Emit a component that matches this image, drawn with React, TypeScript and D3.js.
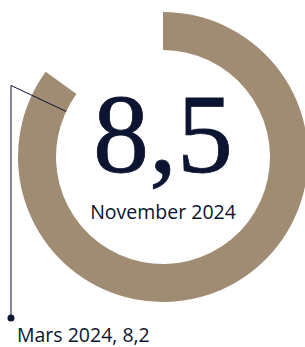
import * as d3 from "d3";

const width = 305;
const height = 347;

// gauge values
const current = [8.5];
const currentLabel = ["November 2024"];
const markerValues = [8.2];
const markerLabels = ["Mars 2024"];
const scaleMax = [10];

const cx = 163;
const cy = 157;
const outerRadius = 145;
const innerRadius = 107;

const ink = "#0b1430";
const ringColor = "#a08c72";

const fmt = (v: number) => v.toFixed(1).replace(".", ",");

const App = () => {
  const angle = d3
    .scaleLinear()
    .domain([0, scaleMax[0]])
    .range([0, 2 * Math.PI]);

  const arcBuilder = d3
    .arc<{ start: number; end: number }>()
    .innerRadius(innerRadius)
    .outerRadius(outerRadius)
    .startAngle((d) => d.start)
    .endAngle((d) => d.end);

  const ringPath = arcBuilder({ start: angle(0), end: angle(current[0]) }) as string;

  // marker leader line: radial from inner edge, then down to the label
  const markers = markerValues.map((v, i) => {
    const a = angle(v);
    const x0 = cx + innerRadius * Math.sin(a);
    const y0 = cy - innerRadius * Math.cos(a);
    const r1 = 168;
    const x1 = cx + r1 * Math.sin(a);
    const y1 = cy - r1 * Math.cos(a);
    return { x0, y0, x1, y1, label: `${markerLabels[i]}, ${fmt(v)}` };
  });

  return (
    <svg
      width={width}
      height={height}
      viewBox={`0 0 ${width} ${height}`}
      style={{ position: "absolute", left: 0, top: 0 }}
    >
      <path d={ringPath} transform={`translate(${cx},${cy})`} fill={ringColor} />

      {markers.map((m, i) => (
        <g key={i}>
          <polyline
            points={`${m.x0},${m.y0} ${m.x1},${m.y1} ${m.x1},318`}
            fill="none"
            stroke={ink}
            strokeWidth={1}
          />
          <circle cx={m.x1} cy={318} r={3.5} fill={ink} />
          <text
            x={17}
            y={342}
            style={{ fontFamily: "'Open Sans'", fontSize: 19.5 }}
            fill={ink}
          >
            {m.label}
          </text>
        </g>
      ))}

      <text
        x={cx}
        y={172}
        textAnchor="middle"
        style={{ fontFamily: "'Liberation Serif'", fontSize: 112 }}
        fill={ink}
        stroke={ink}
        strokeWidth={0.8}
      >
        {fmt(current[0])}
      </text>
      <text
        x={cx}
        y={219}
        textAnchor="middle"
        style={{ fontFamily: "'Open Sans'", fontSize: 19.5 }}
        fill={ink}
      >
        {currentLabel[0]}
      </text>
    </svg>
  );
};

export default App;
